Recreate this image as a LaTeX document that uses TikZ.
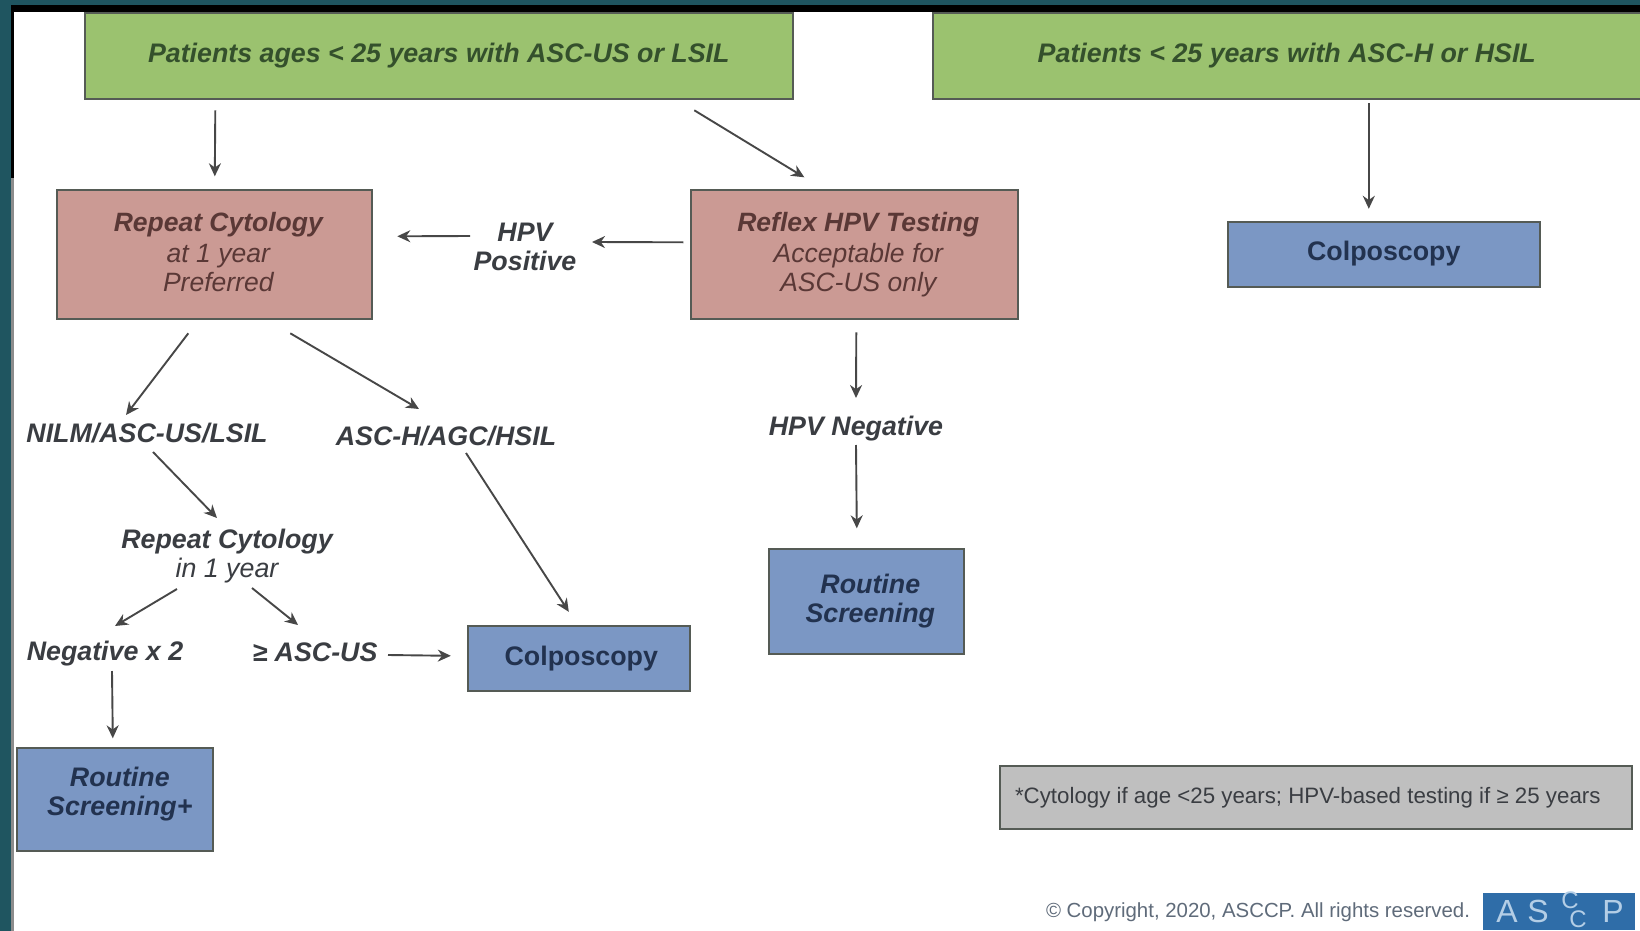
\documentclass[tikz,border=0pt]{standalone}
\usepackage{fontspec}
\setmainfont{Liberation Sans}
\usetikzlibrary{arrows.meta}
\definecolor{teal0}{HTML}{1F5560}
\definecolor{gfill}{HTML}{9BC26F}
\definecolor{rfill}{HTML}{CB9A94}
\definecolor{bfill}{HTML}{7B97C4}
\definecolor{gyfill}{HTML}{BFBFBF}
\definecolor{edgec}{HTML}{555B55}
\definecolor{gtext}{HTML}{34502C}
\definecolor{rtext}{HTML}{5A3836}
\definecolor{btext}{HTML}{22324F}
\definecolor{ktext}{HTML}{3A3D42}
\definecolor{logob}{HTML}{2F6DA8}
\definecolor{logoc}{HTML}{B4CEE6}
\definecolor{copyc}{HTML}{5F6B7A}
\newcommand{\fs}[2]{\fontsize{#1}{#2}\selectfont}
\newcommand{\up}[2]{\raisebox{#1}[\height][\depth]{#2}}
\tikzset{
  x=1pt,y=-1pt,
  box/.style={draw=edgec,line width=1.6pt,anchor=north west,align=center,inner sep=0pt},
  greenbox/.style={box,fill=gfill,text=gtext,font=\fs{26.8}{29}\bfseries\itshape,minimum height=86pt},
  redbox/.style={box,fill=rfill,text=rtext,font=\fs{26.5}{29}\itshape,minimum height=129pt},
  bluebox/.style={box,fill=bfill,text=btext,font=\fs{26.8}{29}\itshape},
  lbl/.style={text=ktext,font=\fs{26.8}{29}\bfseries\itshape,align=center,inner sep=0pt},
  arr/.style={draw=black!72,line width=1.9pt,-{Stealth[length=13pt,width=12pt]}},
  logot/.style={text=logoc,font=\fs{32}{32},inner sep=0pt}
}
\begin{document}
\begin{tikzpicture}
\useasboundingbox (0,0) rectangle (1640,931);
\fill[white] (0,0) rectangle (1640,931);
\fill[teal0] (0,0) rectangle (1640,5);
\fill[teal0] (0,0) rectangle (11,931);
\fill[black] (11,5) rectangle (1640,12);
\fill[black] (11,5) rectangle (14,178);
\fill[black!45] (11,178) rectangle (14,931);

\node[greenbox,minimum width=708pt] (g1) at (84,12) {Patients ages < 25 years with ASC-US or LSIL};
\node[greenbox,minimum width=708pt] (g2) at (932,12) {Patients < 25 years with ASC-H or HSIL};
\node[redbox,minimum width=315pt] (r1) at (56,189) {\hspace*{8pt}\up{3pt}{\textbf{Repeat Cytology}}\\\hspace*{8pt}\up{1pt}{at 1 year}\\\hspace*{8pt}\up{1pt}{Preferred}};
\node[redbox,minimum width=327pt] (r2) at (690,189) {\hspace*{8pt}\up{1pt}{\textbf{Reflex HPV Testing}}\\\hspace*{8pt}\up{-1pt}{Acceptable for}\\\hspace*{8pt}\up{-1pt}{ASC-US only}};
\node[bluebox,minimum width=312pt,minimum height=65pt,font=\fs{26.8}{29}\bfseries] (c1) at (1227,221) {\up{1pt}{Colposcopy}};
\node[bluebox,minimum width=222pt,minimum height=65pt,font=\fs{26.8}{29}\bfseries] (c2) at (467,625) {\hspace*{5pt}Colposcopy};
\node[bluebox,minimum width=195pt,minimum height=105pt] (s1) at (768,548) {\hspace*{8pt}\textbf{Routine}\\\hspace*{8pt}\textbf{Screening}};
\node[bluebox,minimum width=196pt,minimum height=103pt] (s2) at (16,747) {\hspace*{10pt}\up{5pt}{\textbf{Routine}}\\\hspace*{10pt}\up{5pt}{\textbf{Screening+}}};
\node[box,fill=gyfill,text=ktext,font=\fs{22.3}{26},minimum width=632pt,minimum height=63pt] (note) at (999,765) {\hspace*{-16pt}*Cytology if age <25 years; HPV-based testing if ≥ 25 years};

\node[lbl] (hp) at (525,247) {HPV\\Positive};
\node[lbl] (hn) at (856,429) {HPV Negative};
\node[lbl] (nilm) at (147,433) {NILM/ASC-US/LSIL};
\node[lbl] (asch) at (446,436) {ASC-H/AGC/HSIL};
\node[lbl] (rc) at (227,556) {Repeat Cytology\\\mdseries in 1 year};
\node[lbl] (neg) at (105,654) {Negative x 2};
\node[lbl] (ge) at (315,652) {≥ ASC-US};

\draw[arr] ([shift={(-223.5,54.5)}]g1.center) -- ([shift={(0.5,-78)}]r1.center);
\draw[arr] ([shift={(255.5,54.5)}]g1.center) -- ([shift={(-50,-77)}]r2.center);
\draw[arr] ([shift={(82,47.5)}]g2.center) -- ([shift={(-15,-45.5)}]c1.center);
\draw[arr] ([shift={(-171,-12)}]r2.center) -- ([shift={(67,-5)}]hp.center);
\draw[arr] ([shift={(-55,-11)}]hp.center) -- ([shift={(183,-18)}]r1.center);
\draw[arr] ([shift={(-26,79)}]r1.center) -- ([shift={(-21,-18)}]nilm.center);
\draw[arr] ([shift={(76,79)}]r1.center) -- ([shift={(-27,-27)}]asch.center);
\draw[arr] ([shift={(2,78)}]r2.center) -- ([shift={(0,-31)}]hn.center);
\draw[arr] ([shift={(0,16)}]hn.center) -- ([shift={(-9.5,-73)}]s1.center);
\draw[arr] ([shift={(6,19)}]nilm.center) -- ([shift={(-10,-38)}]rc.center);
\draw[arr] ([shift={(20,17)}]asch.center) -- ([shift={(-10,-46.5)}]c2.center);
\draw[arr] ([shift={(-50,33)}]rc.center) -- ([shift={(10,-28)}]neg.center);
\draw[arr] ([shift={(25,32)}]rc.center) -- ([shift={(-17,-27)}]ge.center);
\draw[arr] ([shift={(73,3)}]ge.center) -- ([shift={(-128,-2.5)}]c2.center);
\draw[arr] ([shift={(7,17)}]neg.center) -- ([shift={(-2,-61)}]s2.center);

\node[text=copyc,font=\fs{20.4}{24},inner sep=0pt] (copy) at (1258,912) {© Copyright, 2020, ASCCP. All rights reserved.};
\node[fill=logob,minimum width=152pt,minimum height=37pt,inner sep=0pt,anchor=north west] (logo) at (1483,893) {};
\node[logot] (la) at (1507,911) {A};
\node[logot] (ls) at (1538,911) {S};
\node[logot,font=\fs{24}{24}] (lc) at (1570,900) {C};
\node[logot,font=\fs{24}{24}] (ld) at (1578,919) {C};
\node[logot] (lp) at (1613,911) {P};
\end{tikzpicture}
\end{document}
